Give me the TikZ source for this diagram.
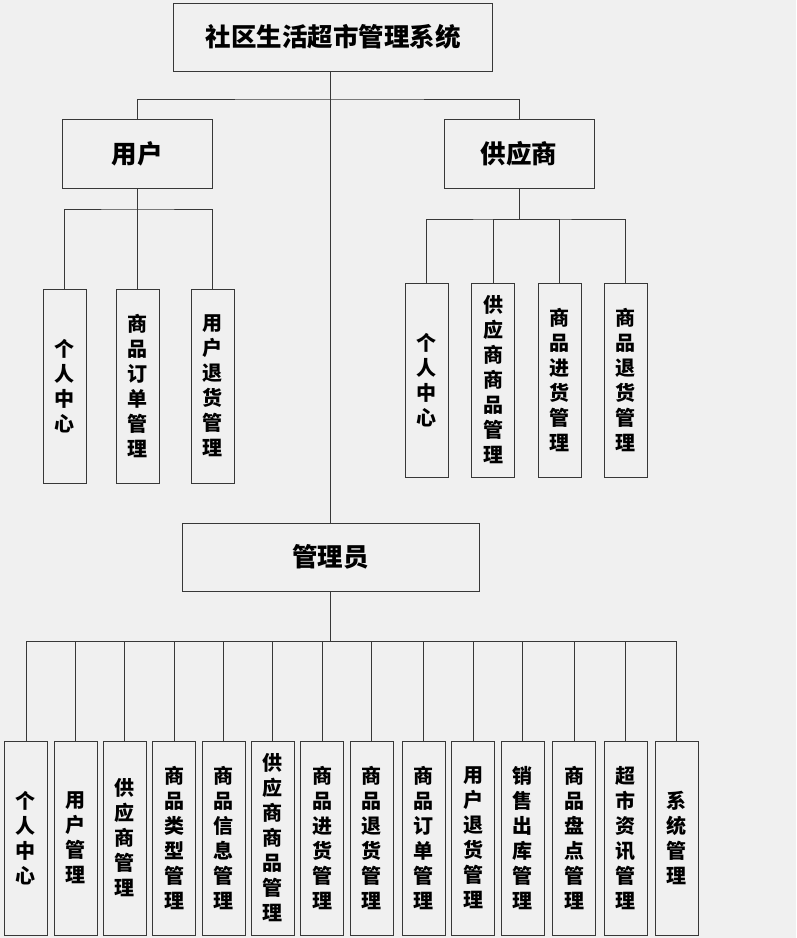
\documentclass[tikz,border=0pt]{standalone}
\usepackage{fontspec}
\setmainfont{Noto Sans CJK SC}
\definecolor{bgcol}{RGB}{240,240,240}
\definecolor{edgecol}{RGB}{56,56,56}

\begin{document}
\begin{tikzpicture}[x=1pt, y=-1pt,
    link/.style={draw=edgecol, line width=0.8pt},
    hbox/.style={draw=edgecol, line width=0.8pt, fill=bgcol, minimum height=68pt, inner sep=0pt, font=\fontsize{25.5}{25.5}\selectfont\bfseries},
    vbox/.style={draw=edgecol, line width=0.8pt, fill=bgcol, minimum width=43pt, minimum height=194pt, inner sep=0pt, align=center, font=\fontsize{20}{25}\selectfont\bfseries}]
    \fill[bgcol] (0,0) rectangle (796,938);
    \useasboundingbox (0,0) rectangle (796,938);

    \node[hbox, minimum width=319pt] (sys) at (333,37) {社区生活超市管理系统};
    \node[hbox, minimum width=150pt, minimum height=69pt] (user) at (137,154) {用户};
    \node[hbox, minimum width=150pt, minimum height=69pt] (supp) at (519,154) {供应商};
    \node[hbox, minimum width=297pt] (admin) at (330.5,557) {管理员};

    \node[vbox] (u1) at (64.5,386) {个\\人\\中\\心};
    \node[vbox] (u2) at (137.5,386) {商\\品\\订\\单\\管\\理};
    \node[vbox] (u3) at (212.5,386) {用\\户\\退\\货\\管\\理};

    \node[vbox] (s1) at (426.5,380) {个\\人\\中\\心};
    \node[vbox] (s2) at (493,380) {供\\应\\商\\商\\品\\管\\理};
    \node[vbox] (s3) at (559.5,380) {商\\品\\进\\货\\管\\理};
    \node[vbox] (s4) at (625.5,380) {商\\品\\退\\货\\管\\理};

    \node[vbox] (a1) at (26,838) {个\\人\\中\\心};
    \node[vbox] (a2) at (75.5,838) {用\\户\\管\\理};
    \node[vbox] (a3) at (124.5,838) {供\\应\\商\\管\\理};
    \node[vbox] (a4) at (174,838) {商\\品\\类\\型\\管\\理};
    \node[vbox] (a5) at (223.5,838) {商\\品\\信\\息\\管\\理};
    \node[vbox] (a6) at (272.5,838) {供\\应\\商\\商\\品\\管\\理};
    \node[vbox] (a7) at (322,838) {商\\品\\进\\货\\管\\理};
    \node[vbox] (a8) at (371.5,838) {商\\品\\退\\货\\管\\理};
    \node[vbox] (a9) at (423.5,838) {商\\品\\订\\单\\管\\理};
    \node[vbox] (a10) at (473,838) {用\\户\\退\\货\\管\\理};
    \node[vbox] (a11) at (522.5,838) {销\\售\\出\\库\\管\\理};
    \node[vbox] (a12) at (574,838) {商\\品\\盘\\点\\管\\理};
    \node[vbox] (a13) at (625.5,838) {超\\市\\资\\讯\\管\\理};
    \node[vbox] (a14) at (676.5,838) {系\\统\\管\\理};

    \coordinate (sysbar) at (330.5,99);
    \coordinate (ubar) at (137,209);
    \coordinate (sbar) at (519,219);
    \coordinate (abar) at (330.5,641);

    \draw[link] (sysbar |- sys.south) -- (admin.north);
    \draw[link] (user.north) |- (sysbar) -| (supp.north);

    \draw[link] (user.south) -- (ubar);
    \draw[link] (u1.north) |- (ubar) -| (u3.north);
    \draw[link] (u2.north) |- (ubar);

    \draw[link] (supp.south) -- (sbar);
    \draw[link] (s1.north) |- (sbar) -| (s4.north);
    \draw[link] (s2.north) |- (sbar);
    \draw[link] (s3.north) |- (sbar);

    \draw[link] (admin.south) -- (abar);
    \draw[link] (a1.north) |- (abar) -| (a14.north);
    \draw[link] (a2.north) |- (abar) (a3.north) |- (abar) (a4.north) |- (abar)
                (a5.north) |- (abar) (a6.north) |- (abar) (a7.north) |- (abar);
    \draw[link] (a8.north) |- (abar) (a9.north) |- (abar) (a10.north) |- (abar)
                (a11.north) |- (abar) (a12.north) |- (abar) (a13.north) |- (abar);
\end{tikzpicture}
\end{document}
